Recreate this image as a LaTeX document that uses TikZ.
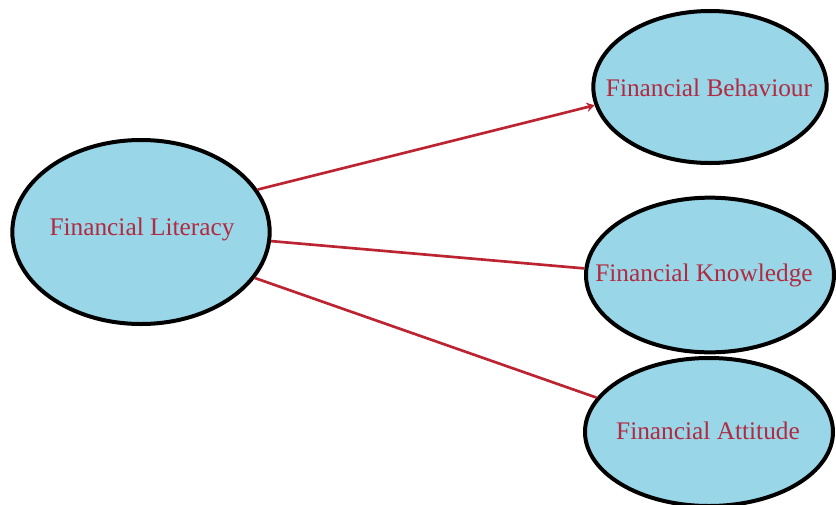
\documentclass[tikz,border=0pt]{standalone}
\usepackage{fontspec}
\setmainfont{Liberation Serif}
\usetikzlibrary{shapes.geometric,arrows.meta}
\definecolor{bubblefill}{RGB}{152,214,232}
\definecolor{labelred}{RGB}{178,42,64}
\definecolor{linkred}{RGB}{188,36,50}
\tikzset{
  bubble/.style={ellipse,draw=black,line width=3pt,fill=bubblefill,inner sep=0pt},
  txt/.style={text=labelred,font=\fontsize{19}{22}\selectfont,inner sep=0pt},
  link/.style={draw=linkred,line width=2pt}
}
\begin{document}
\begin{tikzpicture}[x=0.75pt,y=-0.75pt]
            \useasboundingbox (0,0) rectangle (836,504);
            \node[bubble,minimum width=193pt,minimum height=138pt] (lit) at (141,232) {};
            \node[bubble,minimum width=175pt,minimum height=114pt] (beh) at (710,87) {};
            \node[bubble,minimum width=186pt,minimum height=116pt] (kno) at (710,275) {};
            \node[bubble,minimum width=186pt,minimum height=111pt] (att) at (709,432) {};
            \node[txt] at (142,229) {Financial Literacy};
            \node[txt] at (709,88) {Financial Behaviour};
            \node[txt] at (704,275) {Financial Knowledge};
            \node[txt] at (708,431) {Financial Attitude};
            \draw[link,-{Stealth[length=6pt,width=7pt]}] (lit.20) -- (beh.189);
            \draw[link] (lit.356) -- (kno.177);
            \draw[link] (lit.338) -- (att.163);
        \end{tikzpicture}
\end{document}
